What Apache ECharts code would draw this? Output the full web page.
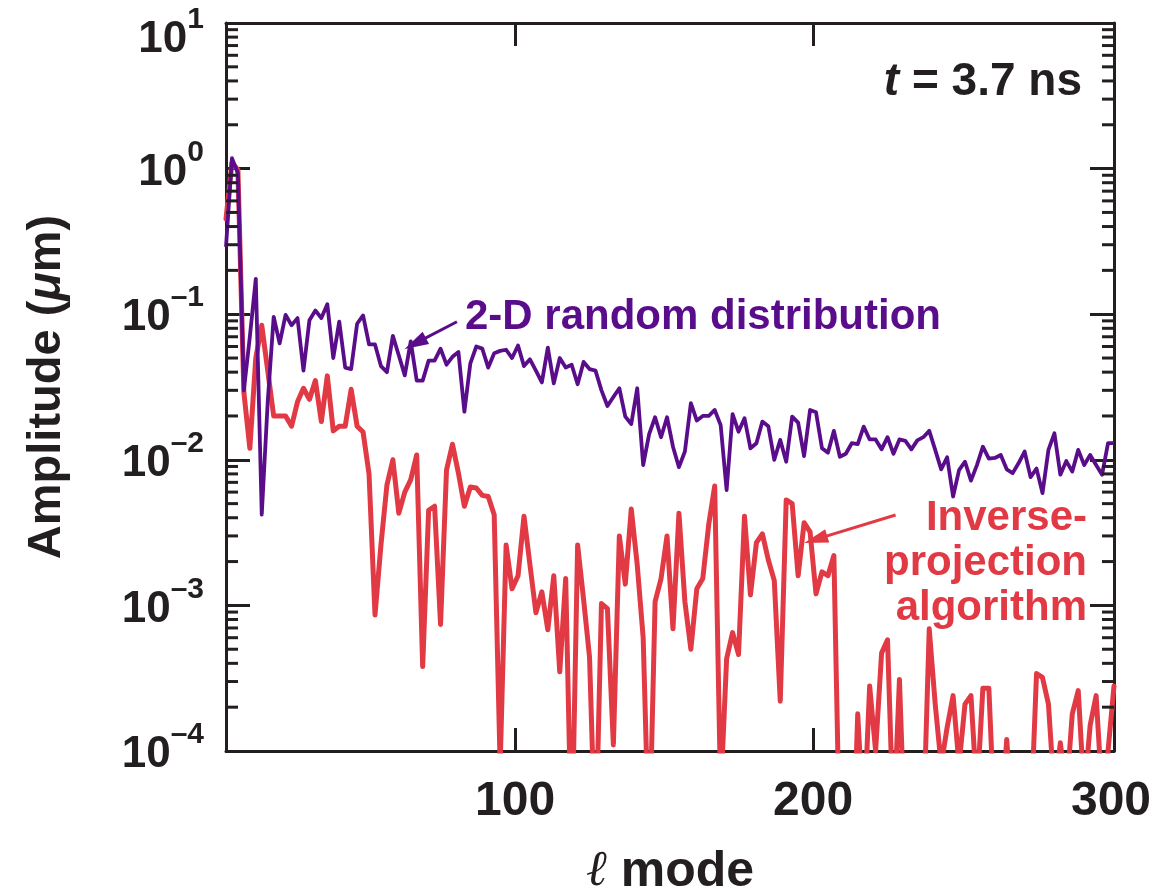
<!DOCTYPE html>
<html><head><meta charset="utf-8">
<script src="https://cdn.jsdelivr.net/npm/echarts@6/dist/echarts.min.js"></script>
<style>html,body{margin:0;padding:0;background:#fff}#c{width:1158px;height:894px}</style>
</head><body><div id="c"></div>
<script>
// ℓ modes (x values)
const modes = [3,5,7,9,11,13,15,17,19,21,23,25,27,29,31,33,35,37,39,41,43,45,47,49,51,53,55,57,59,61,63,65,67,69,71,73,75,77,79,81,83,85,87,89,91,93,95,97,99,101,103,105,107,109,111,113,115,117,119,121,123,125,127,129,131,133,135,137,139,141,143,145,147,149,151,153,155,157,159,161,163,165,167,169,171,173,175,177,179,181,183,185,187,189,191,193,195,197,199,201,203,205,207,209,211,213,215,217,219,221,223,225,227,229,231,233,235,237,239,241,243,245,247,249,251,253,255,257,259,261,263,265,267,269,271,273,275,277,279,281,283,285,287,289,291,293,295,297,299,301];

// 2-D random distribution amplitude (µm)
const randomAmp = [
0.29,1.18,0.93,0.030,0.07,0.175,0.0042,0.025,0.096,0.063,
0.099,0.084,0.094,0.041,0.091,0.106,0.094,0.117,0.050,0.089,
0.043,0.042,0.086,0.098,0.062,0.062,0.044,0.040,0.071,0.052,
0.038,0.065,0.035,0.035,0.048,0.048,0.058,0.045,0.051,0.055,
0.0214,0.046,0.060,0.058,0.043,0.054,0.056,0.057,0.050,0.061,
0.044,0.049,0.041,0.034,0.059,0.0335,0.050,0.043,0.045,0.033,
0.047,0.042,0.041,0.030,0.0234,0.027,0.031,0.0198,0.0176,0.031,
0.0092,0.015,0.0196,0.0143,0.0196,0.0123,0.0089,0.0114,0.0245,0.0186,
0.020,0.020,0.022,0.0173,0.0062,0.0206,0.0156,0.0193,0.012,0.013,
0.0183,0.017,0.010,0.0137,0.0097,0.0198,0.018,0.0106,0.022,0.0212,
0.012,0.0112,0.0158,0.0105,0.011,0.013,0.0128,0.0169,0.0138,0.0138,
0.0118,0.0143,0.011,0.0138,0.0135,0.0118,0.0136,0.0143,0.0158,0.0117,
0.0086,0.0104,0.0056,0.0085,0.0097,0.0072,0.0092,0.0123,0.0102,0.0103,
0.0108,0.0086,0.0081,0.0095,0.0114,0.0076,0.0087,0.0059,0.0117,0.0152,
0.0079,0.0098,0.0083,0.0117,0.0092,0.0108,0.0092,0.0079,0.013,0.013];

// Inverse-projection algorithm amplitude (µm)
const inverseAmp = [
0.45,1.1,0.98,0.029,0.012,0.05,0.084,0.041,0.020,0.020,
0.020,0.017,0.025,0.031,0.026,0.035,0.0183,0.0377,0.0158,0.017,
0.017,0.0305,0.017,0.0155,0.008,0.00086,0.0026,0.0067,0.010,0.0043,
0.006,0.0073,0.0108,0.00038,0.0045,0.0048,0.00074,0.0085,0.0128,0.0081,
0.0048,0.0065,0.0064,0.0057,0.0056,0.0042,0.00008,0.0026,0.0013,0.0016,
0.0041,0.0019,0.00089,0.00124,0.00068,0.0016,0.00035,0.00153,0.00002,0.0026,
0.0011,0.00044,0.00002,0.00103,0.00095,0.00011,0.003,0.0014,0.0046,0.0019,
0.0006,0.00002,0.00106,0.00153,0.0030,0.00069,0.0043,0.00106,0.0005,0.0013,
0.00153,0.0036,0.0066,0.00005,0.00043,0.00065,0.00046,0.0041,0.00118,0.0027,
0.0031,0.00205,0.00148,0.00022,0.0053,0.0050,0.0016,0.0037,0.0032,0.0012,
0.0017,0.0016,0.0022,0.00002,0.00002,0.00001,0.00018,0.00003,0.00028,0.0001,
0.00047,0.00058,0.00003,0.00031,0.00002,0.00002,0.00002,0.00003,0.00069,0.00021,
0.00008,0.000145,0.00024,0.00008,0.00021,0.00024,0.00005,0.00027,0.00027,0.00003,
0.00003,0.00012,0.00003,0.00002,0.00002,0.00003,0.00034,0.00032,0.00021,0.00005,
0.000114,0.00005,0.00018,0.00026,0.00005,0.00015,0.00024,0.00005,0.0001,0.00028];

// axis ticks / labels
const xTickValues = [100, 200];
const xLabelValues = [100, 200, 300];
const yDecades = [1e-4, 1e-3, 1e-2, 1e-1, 1];
const yMinorMultipliers = [2, 3, 4, 5, 6, 7, 8, 9];

// annotation anchor points (data coordinates)
const randomArrow = [[80.5, 0.0888], [66.5, 0.063]];
const inverseArrow = [[227.7, 0.00418], [200.9, 0.00284]];

const PURPLE = '#5a0d8b';
const RED = '#e13a44';
const INK = '#231f20';
const FONT = '"Liberation Sans", Arial, Helvetica, sans-serif';
const X_MIN = 3, X_MAX = 301, Y_MIN = 1e-4, Y_MAX = 10;

const minorTicks = [];
yDecades.forEach(d => yMinorMultipliers.forEach(m => minorTicks.push([X_MIN, d * m])));

const chart = echarts.init(document.getElementById('c'), null, {renderer: 'canvas'});

const yLabelFmt = v => {
  const e = Math.round(Math.log10(v));
  const s = e < 0 ? '\u2013' + (-e) : String(e);
  // top label is nudged down inside the canvas, as in the original
  return e >= 1 ? '{bt|10}{st|' + s + '}' : '{b|10}{s|' + s + '}';
};

const axisLineStyle = {color: INK, width: 3};
const bStyle = {fontSize: 44, fontWeight: 'bold', color: INK, fontFamily: FONT};
const sStyle = {fontSize: 30, fontWeight: 'bold', color: INK, fontFamily: FONT};

chart.setOption({
  animation: false,
  backgroundColor: '#fff',
  grid: {left: 226, top: 23, width: 888, height: 728, containLabel: false, outerBoundsMode: 'none'},
  xAxis: [{
    type: 'value', min: X_MIN, max: X_MAX, position: 'bottom',
    axisLine: {show: true, onZero: false, lineStyle: axisLineStyle},
    axisTick: {show: true, inside: true, length: 23, customValues: xTickValues, lineStyle: {color: INK, width: 3}},
    axisLabel: {show: true, customValues: xLabelValues, margin: 27, fontSize: 48, fontWeight: 'bold', color: INK, fontFamily: FONT},
    splitLine: {show: false},
    name: '{i|\u2113} mode', nameLocation: 'middle', nameGap: 96,
    nameTextStyle: {fontSize: 50, fontWeight: 'bold', color: INK, fontFamily: FONT,
      rich: {i: {fontSize: 50, fontWeight: 'normal', color: INK, fontFamily: '"DejaVu Serif", serif', fontStyle: 'italic'}}}
  }, {
    type: 'value', min: X_MIN, max: X_MAX, position: 'top',
    axisLine: {show: true, onZero: false, lineStyle: axisLineStyle},
    axisTick: {show: true, inside: true, length: 23, customValues: xTickValues, lineStyle: {color: INK, width: 3}},
    axisLabel: {show: false}, splitLine: {show: false}
  }],
  yAxis: [{
    type: 'log', logBase: 10, min: Y_MIN, max: Y_MAX, position: 'left',
    axisLine: {show: true, onZero: false, lineStyle: axisLineStyle},
    axisTick: {show: true, inside: true, length: 24, lineStyle: {color: INK, width: 3}},
    minorTick: {show: false},
    axisLabel: {show: true, margin: 22, formatter: yLabelFmt, color: INK,
      rich: {
        b: Object.assign({}, bStyle, {padding: [0, 0, -8, 0]}),
        s: Object.assign({}, sStyle, {padding: [0, 0, 32, 0]}),
        bt: Object.assign({}, bStyle, {padding: [26, 0, -8, 0]}),
        st: Object.assign({}, sStyle, {padding: [26, 0, 32, 0]})
      }},
    splitLine: {show: false},
    name: '{n|Amplitude (}{i|\u03bc}{n|m)}', nameLocation: 'middle', nameGap: 155, nameRotate: 90,
    nameTextStyle: {color: INK, rich: {
      n: {fontSize: 47, fontWeight: 'bold', color: INK, fontFamily: FONT},
      i: {fontSize: 47, fontWeight: 'bold', fontStyle: 'italic', color: INK, fontFamily: FONT}
    }}
  }, {
    type: 'log', logBase: 10, min: Y_MIN, max: Y_MAX, position: 'right',
    axisLine: {show: true, onZero: false, lineStyle: axisLineStyle},
    axisTick: {show: true, inside: true, length: 24, lineStyle: {color: INK, width: 3}},
    axisLabel: {show: false}, splitLine: {show: false}
  }],
  graphic: [
    {type: 'text', x: 465, y: 317, z: 10, style: {text: '2-D random distribution', fill: PURPLE,
      font: 'bold 42px ' + FONT, textAlign: 'left', textVerticalAlign: 'middle'}},
    {type: 'text', x: 1082, y: 82, z: 10, style: {text: '{i|t} = 3.7 ns', fill: INK,
      font: 'bold 46px ' + FONT, textAlign: 'right', textVerticalAlign: 'middle',
      rich: {i: {fontStyle: 'italic', fontWeight: 'bold', fontSize: 46, fontFamily: FONT, fill: INK}}}},
    {type: 'text', x: 1087, y: 563, z: 10, style: {text: 'Inverse-\nprojection\nalgorithm', fill: RED,
      font: 'bold 42px ' + FONT, textAlign: 'right', textVerticalAlign: 'middle', lineHeight: 45}}
  ],
  series: [
    {
      type: 'custom', name: 'minorTicks', xAxisIndex: 0, yAxisIndex: 0, silent: true, clip: false, z: 5,
      data: minorTicks,
      renderItem: (params, api) => {
        const cs = params.coordSys;
        const y = api.coord([api.value(0), api.value(1)])[1];
        const st = {stroke: INK, lineWidth: 3};
        return {type: 'group', children: [
          {type: 'line', shape: {x1: cs.x, y1: y, x2: cs.x + 12, y2: y}, style: st},
          {type: 'line', shape: {x1: cs.x + cs.width - 12, y1: y, x2: cs.x + cs.width, y2: y}, style: st}
        ]};
      }
    },
    {
      type: 'line', name: 'Inverse-projection algorithm', xAxisIndex: 0, yAxisIndex: 0,
      data: modes.map((m, i) => [m, inverseAmp[i]]),
      showSymbol: false, symbol: 'none', clip: true, z: 2,
      lineStyle: {color: RED, width: 5, join: 'round', cap: 'round'},
      markLine: {silent: true, symbol: ['none', 'triangle'], symbolSize: [14, 24], animation: false,
        lineStyle: {color: RED, width: 3, type: 'solid'}, label: {show: false},
        data: [[{coord: inverseArrow[0]}, {coord: inverseArrow[1]}]]}
    },
    {
      type: 'line', name: '2-D random distribution', xAxisIndex: 0, yAxisIndex: 0,
      data: modes.map((m, i) => [m, randomAmp[i]]),
      showSymbol: false, symbol: 'none', clip: true, z: 3,
      lineStyle: {color: PURPLE, width: 3.8, join: 'round'},
      markLine: {silent: true, symbol: ['none', 'triangle'], symbolSize: [14, 24], animation: false,
        lineStyle: {color: PURPLE, width: 3, type: 'solid'}, label: {show: false},
        data: [[{coord: randomArrow[0]}, {coord: randomArrow[1]}]]}
    }
  ]
});
</script>
</body></html>
